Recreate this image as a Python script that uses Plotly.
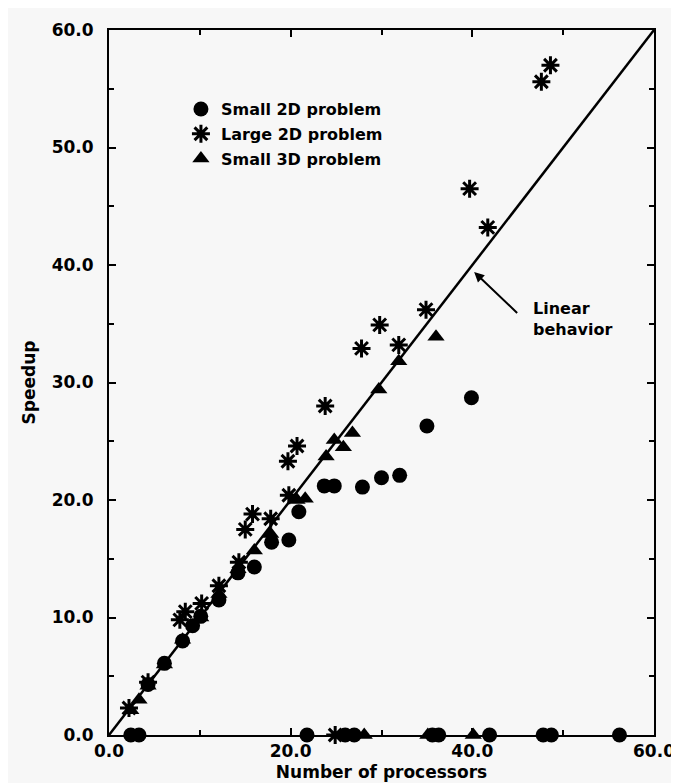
import plotly.graph_objects as go

# Small 2D problem (circles); zero entries sit on the x axis in the original
SMALL_2D_X = [4.3, 6.1, 8.1, 9.2, 10.1, 12.1, 14.2, 16.0, 17.9, 19.8, 20.9,
              23.7, 24.8, 27.9, 30.0, 32.0, 35.0, 39.9,
              2.4, 3.3, 21.8, 26.0, 27.0, 35.6, 36.3, 41.9, 47.8, 48.7, 56.2]
SMALL_2D_Y = [4.3, 6.1, 8.0, 9.3, 10.1, 11.5, 13.8, 14.3, 16.4, 16.6, 19.0,
              21.2, 21.2, 21.1, 21.9, 22.1, 26.3, 28.7,
              0, 0, 0, 0, 0, 0, 0, 0, 0, 0, 0]

# Large 2D problem (asterisks)
LARGE_2D_X = [2.2, 4.3, 7.8, 8.4, 10.2, 12.1, 14.3, 15.0, 15.8, 17.8, 19.8,
              19.7, 20.7, 23.8, 27.8, 29.8, 31.9, 34.9, 39.7, 41.7, 47.6, 48.6,
              24.9]
LARGE_2D_Y = [2.3, 4.5, 9.8, 10.5, 11.2, 12.7, 14.7, 17.5, 18.8, 18.4, 20.4,
              23.3, 24.6, 28.0, 32.9, 34.9, 33.2, 36.2, 46.5, 43.2, 55.6, 57.0,
              0]

# Small 3D problem (triangles)
SMALL_3D_X = [2.4, 3.3, 4.3, 6.1, 8.1, 10.1, 12.1, 14.2, 16.0, 17.8, 20.7,
              21.6, 23.9, 24.8, 25.8, 26.8, 29.7, 31.9, 36.0,
              28.1, 35.1, 40.1]
SMALL_3D_Y = [2.1, 3.0, 4.2, 6.0, 8.1, 10.0, 12.0, 14.1, 15.7, 17.1, 20.0,
              20.1, 23.7, 25.1, 24.5, 25.7, 29.4, 31.8, 33.9,
              0, 0, 0]

LINEAR_X = [0, 60]
LINEAR_Y = [0, 60]

FONT = "DejaVu Sans"
BG = "#f7f7f7"

fig = go.Figure()

fig.add_trace(go.Scatter(
    x=LINEAR_X, y=LINEAR_Y, mode="lines", showlegend=False,
    line=dict(color="black", width=2.5), hoverinfo="skip"))

fig.add_trace(go.Scatter(
    x=SMALL_2D_X, y=SMALL_2D_Y, mode="markers", name="Small 2D problem",
    legendgroup="a", cliponaxis=False,
    marker=dict(symbol="circle", size=15, color="black")))
fig.add_trace(go.Scatter(
    x=LARGE_2D_X, y=LARGE_2D_Y, mode="markers", name="Large 2D problem",
    legendgroup="b", cliponaxis=False,
    marker=dict(symbol="asterisk-open", size=15, color="black",
                line=dict(color="black", width=3))))
fig.add_trace(go.Scatter(
    x=SMALL_3D_X, y=SMALL_3D_Y, mode="markers", name="Small 3D problem",
    legendgroup="c", cliponaxis=False,
    marker=dict(symbol="triangle-up", size=15, color="black")))

axis_common = dict(
    range=[0, 60], showline=True, linecolor="black", linewidth=2,
    mirror="ticks", ticks="inside", ticklen=7, tickwidth=2, tickcolor="black",
    showgrid=False, zeroline=False, tickformat=".1f",
    tickfont=dict(family=FONT, size=17, color="black", weight="bold"),
)

fig.update_layout(
    width=679, height=783,
    paper_bgcolor=BG, plot_bgcolor=BG,
    margin=dict(l=101, r=25, t=21, b=54),
    font=dict(family=FONT, color="black"),
    xaxis=dict(
        axis_common, dtick=20, tick0=0,
        minor=dict(dtick=10, ticks="inside", ticklen=5, tickwidth=2,
                   tickcolor="black"),
        title=dict(text="Number of processors", standoff=6,
                   font=dict(family=FONT, size=17, weight="bold"))),
    yaxis=dict(
        axis_common, dtick=10, tick0=0, ticklabelstandoff=10,
        minor=dict(dtick=5, ticks="inside", ticklen=5, tickwidth=2,
                   tickcolor="black"),
        title=dict(text="Speedup", standoff=12,
                   font=dict(family=FONT, size=17, weight="bold"))),
    legend=dict(
        x=0.132, y=0.912, xanchor="left", yanchor="top",
        bgcolor="rgba(0,0,0,0)", traceorder="grouped", tracegroupgap=1,
        itemwidth=30,
        font=dict(family=FONT, size=16, color="black", weight="bold")),
    annotations=[
        dict(x=40.2, y=39.4, ax=45.1, ay=35.8, xref="x", yref="y",
             axref="x", ayref="y", text="", showarrow=True,
             arrowhead=2, arrowsize=1, arrowwidth=2, arrowcolor="black"),
        dict(x=46.5, y=35.4, xref="x", yref="y", xanchor="left",
             yanchor="middle", align="left", showarrow=False,
             text="Linear<br>behavior",
             font=dict(family=FONT, size=16, color="black", weight="bold")),
    ],
)

fig.write_html("out.html")
